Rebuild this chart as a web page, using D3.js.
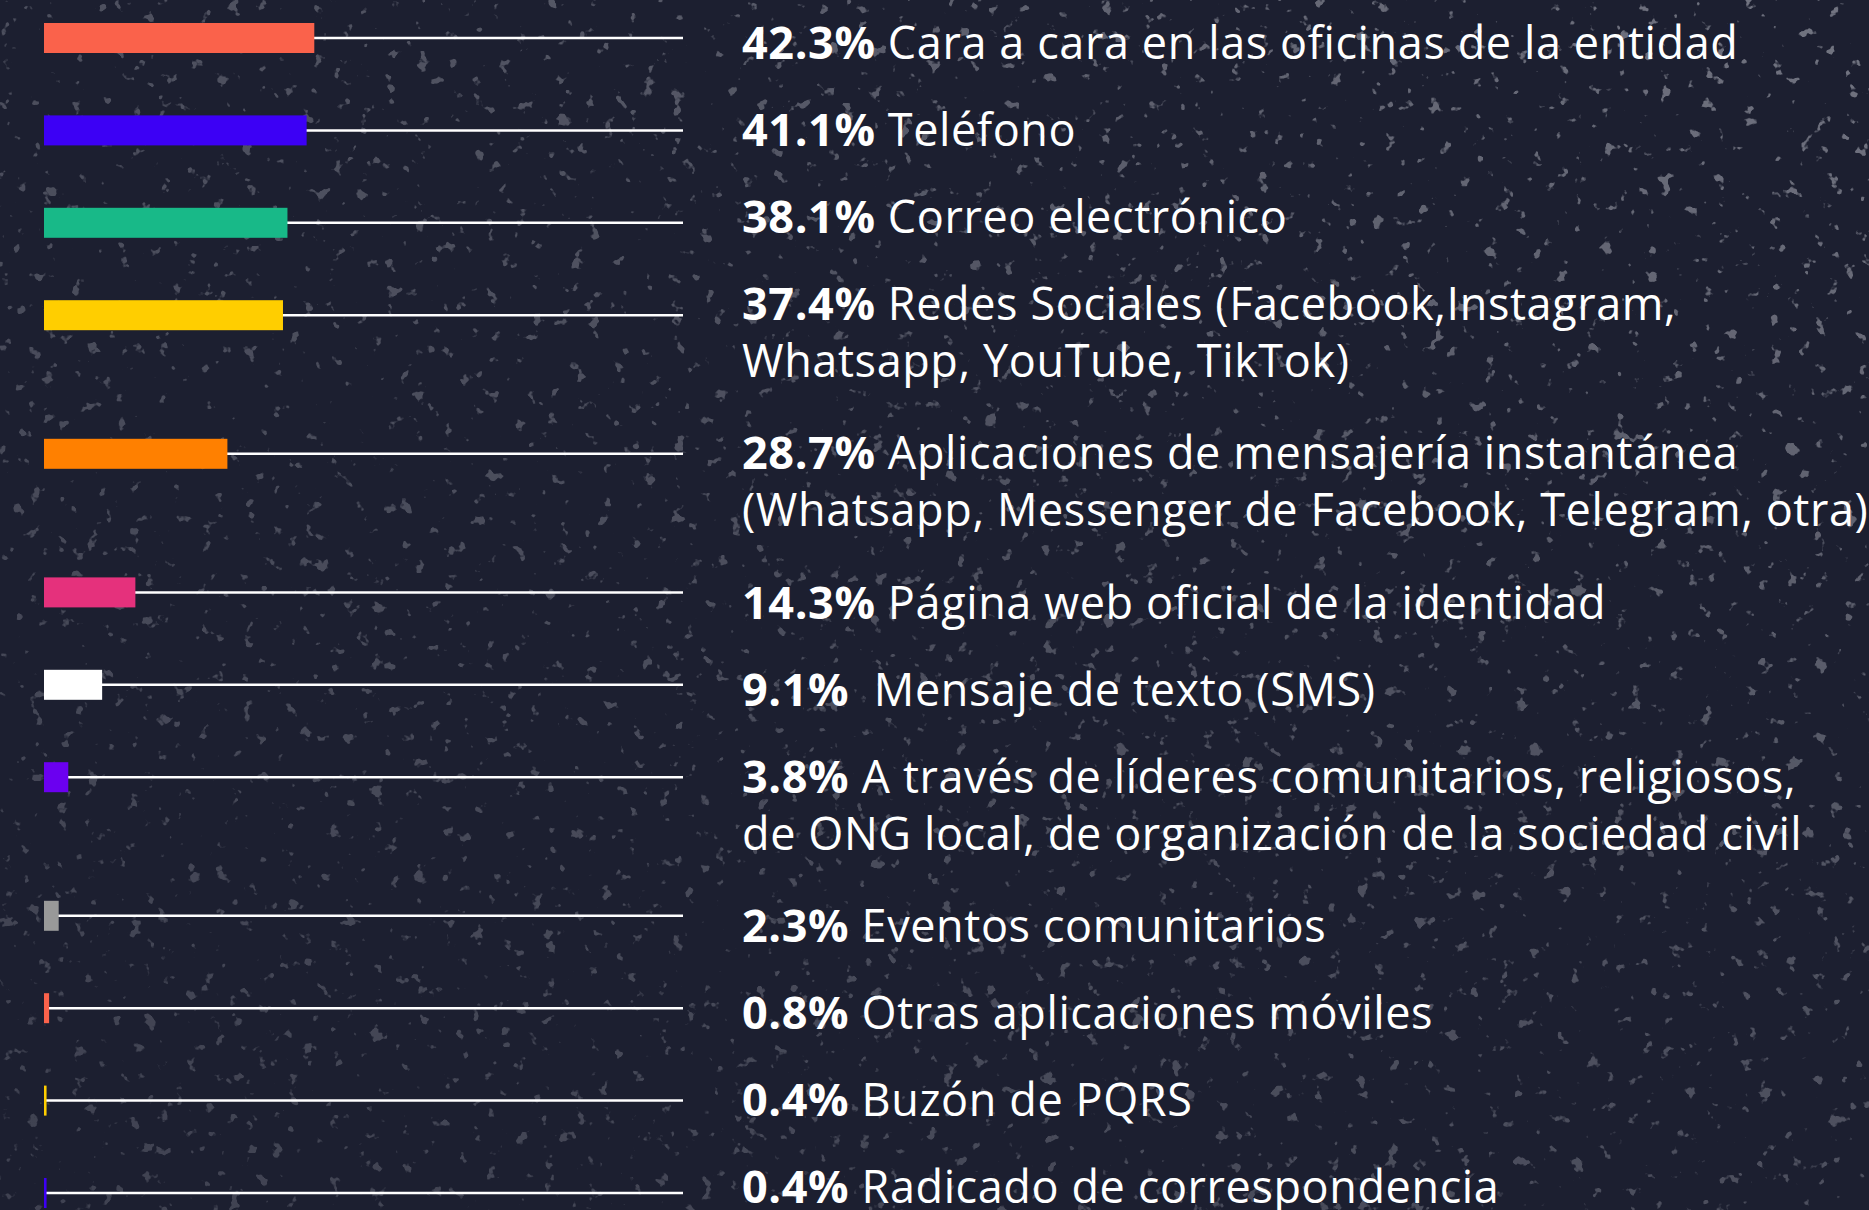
<!DOCTYPE html>
<html>
<head>
<meta charset="utf-8">
<script src="https://cdn.jsdelivr.net/npm/d3@7"></script>
<style>
    html, body { margin: 0; padding: 0; background: #1c1f30; }
    svg { display: block; }
    .label { font-family: "Open Sans", Lato, sans-serif; fill: #ffffff; white-space: pre; letter-spacing: 0.6px; }
</style>
</head>
<body>
<div id="chart"></div>
<script>
// channels, most to least used
const values = [42.3, 41.1, 38.1, 37.4, 28.7, 14.3, 9.1, 3.8, 2.3, 0.8, 0.4, 0.4]
const labels = [
    ['Cara a cara en las oficinas de la entidad'],
    ['Teléfono'],
    ['Correo electrónico'],
    ['Redes Sociales (Facebook,Instagram,', 'Whatsapp, YouTube, TikTok)'],
    ['Aplicaciones de mensajería instantánea', '(Whatsapp, Messenger de Facebook, Telegram, otra)'],
    ['Página web oficial de la identidad'],
    [' Mensaje de texto (SMS)'],
    ['A través de líderes comunitarios, religiosos,', 'de ONG local, de organización de la sociedad civil'],
    ['Eventos comunitarios'],
    ['Otras aplicaciones móviles'],
    ['Buzón de PQRS'],
    ['Radicado de correspondencia'],
]
const colors = ['#fa624b', '#3c00f5', '#18b988', '#ffce00', '#ff8000', '#e5317c',
    '#ffffff', '#6b00f0', '#999999', '#fa624b', '#ffce00', '#3c00f5']

const width = 1869
const height = 1210
const barHeight = 30
const lineGap = 57
const fontSize = 45
const textX = 742

// rows with a second text line push the next row down
let barSlots = [], textSlots = []
let accB = 0, accT = 0
labels.forEach(l => {
    barSlots.push(accB)
    textSlots.push(accT)
    accB += 1 + 0.5 * (l.length - 1)
    accT += 1 + 0.72 * (l.length - 1)
})

const data = values.map((v, i) => ({
    value: v, lines: labels[i], color: colors[i], slot: barSlots[i], tslot: textSlots[i]
}))

const x = d3.scaleLinear().domain([0, 100]).range([44, 683])
const y = d3.scaleLinear().domain([0, barSlots[barSlots.length - 1]]).range([38, 1193])
const yText = d3.scaleLinear().domain([0, textSlots[textSlots.length - 1]]).range([46, 1190])
const fmt = d3.format('.1f')

const svg = d3.select('#chart')
    .append('svg')
    .attr('width', width)
    .attr('height', height)

// speckled backdrop, denser toward the top right
const defs = svg.append('defs')
const filter = defs.append('filter')
    .attr('id', 'speckle')
    .attr('x', 0).attr('y', 0).attr('width', '100%').attr('height', '100%')
filter.append('feTurbulence')
    .attr('type', 'fractalNoise')
    .attr('baseFrequency', 0.07)
    .attr('numOctaves', 3)
    .attr('seed', 7)
filter.append('feColorMatrix')
    .attr('type', 'matrix')
    .attr('values', '0 0 0 0 0.25  0 0 0 0 0.26  0 0 0 0 0.31  16 0 0 0 -10.9')

const grad = defs.append('linearGradient')
    .attr('id', 'fade')
    .attr('x1', 0).attr('y1', 1).attr('x2', 1).attr('y2', 0)
grad.append('stop').attr('offset', 0).style('stop-color', '#fff').style('stop-opacity', 0.4)
grad.append('stop').attr('offset', 0.6).style('stop-color', '#fff').style('stop-opacity', 0.6)
grad.append('stop').attr('offset', 1).style('stop-color', '#fff').style('stop-opacity', 1)
defs.append('mask')
    .attr('id', 'fadeMask')
    .append('rect')
    .attr('width', width)
    .attr('height', height)
    .style('fill', 'url(#fade)')

svg.append('rect')
    .attr('width', width)
    .attr('height', height)
    .style('fill', '#1c1f30')
svg.append('rect')
    .attr('width', width)
    .attr('height', height)
    .attr('filter', 'url(#speckle)')
    .attr('mask', 'url(#fadeMask)')
    .style('opacity', 0.8)

const rows = svg.selectAll('.row')
    .data(data)
    .enter()
    .append('g')
    .attr('class', 'row')

// track line behind each bar, full length = 100%
rows.append('line')
    .attr('x1', x(0))
    .attr('x2', x(100))
    .attr('y1', d => y(d.slot))
    .attr('y2', d => y(d.slot))
    .style('stroke', '#ffffff')
    .style('stroke-width', 2.5)

rows.append('rect')
    .attr('x', x(0))
    .attr('y', d => y(d.slot) - barHeight / 2)
    .attr('width', d => x(d.value) - x(0))
    .attr('height', barHeight)
    .style('fill', d => d.color)

const text = rows.append('text')
    .attr('class', 'label')
    .attr('x', textX)
    .attr('y', d => yText(d.tslot) + 13)
    .style('font-size', fontSize + 'px')

text.append('tspan')
    .style('font-weight', 700)
    .text(d => fmt(d.value) + '% ')

text.append('tspan')
    .text(d => d.lines[0])

text.each(function (d) {
    d.lines.slice(1).forEach(line => {
        d3.select(this).append('tspan')
            .attr('x', textX)
            .attr('dy', lineGap)
            .text(line)
    })
})
</script>
</body>
</html>
